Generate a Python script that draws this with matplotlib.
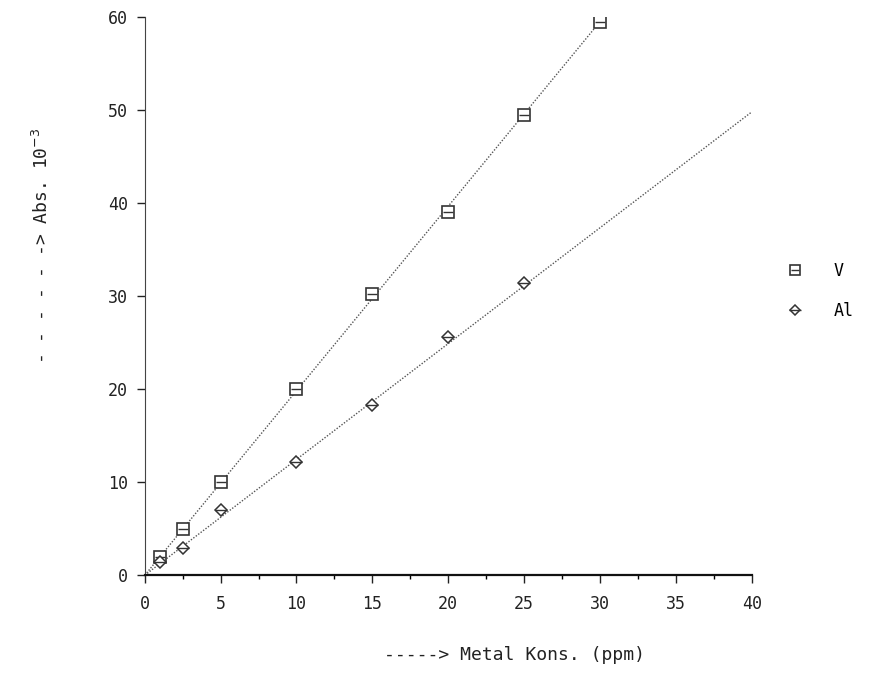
import matplotlib
matplotlib.use("Agg")
import matplotlib.pyplot as plt
from matplotlib.lines import Line2D

v_x = [1, 2.5, 5, 10, 15, 20, 25, 30]
v_y = [2.0, 5.0, 10.0, 20.0, 30.2, 39.0, 49.5, 59.5]
al_x = [1, 2.5, 5, 10, 15, 20, 25]
al_y = [1.4, 2.9, 7.0, 12.2, 18.3, 25.6, 31.4]
v_line_x = [0, 30]
v_line_y = [0, 59.5]
al_line_x = [0, 40]
al_line_y = [0, 49.8]
x_ticks = [0, 5, 10, 15, 20, 25, 30, 35, 40]
y_ticks = [0, 10, 20, 30, 40, 50, 60]

plt.rcParams['font.family'] = ['DejaVu Sans Mono']

fig = plt.figure(figsize=(8.72, 6.84), dpi=100)
ax = fig.add_axes([0.166, 0.159, 0.696, 0.816])

ax.plot(v_line_x, v_line_y, color='#555555', lw=1.0, ls=(0, (1, 1.2)))
ax.plot(al_line_x, al_line_y, color='#555555', lw=1.0, ls=(0, (1, 1.2)))
ax.plot(v_x, v_y, ls='none', marker='s', ms=8, mfc='white', mec='#333333', mew=1.2)
ax.plot(v_x, v_y, ls='none', marker='_', ms=7, mec='#333333', mew=1.0)
ax.plot(al_x, al_y, ls='none', marker='D', ms=6, mfc='white', mec='#333333', mew=1.1)
ax.plot(al_x, al_y, ls='none', marker='_', ms=9, mec='#333333', mew=1.0)

ax.set_xlim(0, 40)
ax.set_ylim(0, 60)
ax.set_xticks(x_ticks)
ax.set_xticks([2.5, 7.5, 12.5, 17.5, 22.5, 27.5, 32.5, 37.5], minor=True)
ax.set_yticks(y_ticks)
ax.tick_params(axis='both', labelsize=12, colors='#222222', length=6, width=1)
ax.tick_params(axis='x', which='minor', length=3, width=1)
ax.tick_params(axis='x', pad=8)
ax.tick_params(axis='y', pad=6)
for s in ['top', 'right']:
    ax.spines[s].set_visible(False)
ax.spines['left'].set_linestyle((0, (1, 1)))
ax.spines['left'].set_color('#444444')
ax.spines['bottom'].set_linewidth(1.6)
ax.spines['bottom'].set_color('#111111')

fig.text(0.59, 0.042, '-----> Metal Kons. (ppm)', ha='center', va='center', fontsize=13, color='#222222')
fig.text(0.048, 0.64, '- - - - - -> Abs. 10$^{-3}$', ha='center', va='center', rotation=90, fontsize=13, color='#222222')

h_v = (Line2D([], [], ls='none', marker='s', ms=7, mfc='white', mec='#333333', mew=1.2),
       Line2D([], [], ls='none', marker='_', ms=6, mec='#333333', mew=1.0))
h_al = (Line2D([], [], ls='none', marker='D', ms=5, mfc='white', mec='#333333', mew=1.1),
        Line2D([], [], ls='none', marker='_', ms=8, mec='#333333', mew=1.0))
fig.legend([h_v, h_al], ['V', 'Al'], loc='center left', bbox_to_anchor=(0.88, 0.575),
           frameon=False, fontsize=12, handlelength=1.5, handletextpad=1.6, labelspacing=1.3)

fig.savefig('out.png', dpi=100)
